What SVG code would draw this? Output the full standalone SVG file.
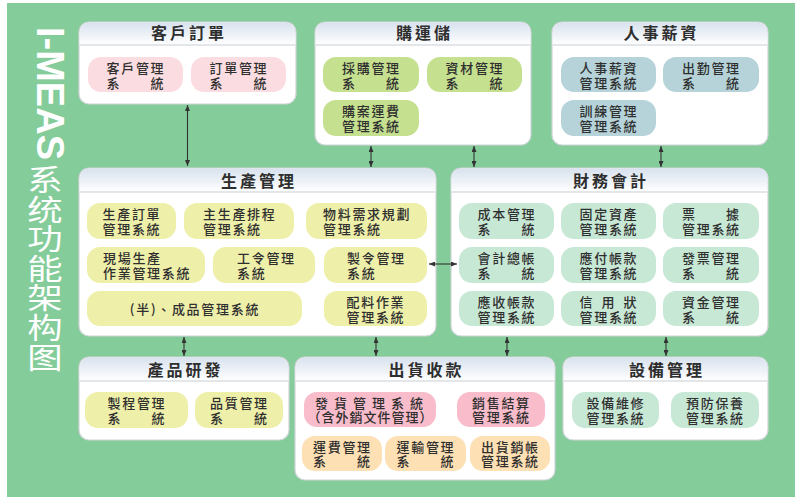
<svg xmlns="http://www.w3.org/2000/svg" width="800" height="504" viewBox="0 0 800 504">
<defs>
<linearGradient id="hg" x1="0" y1="0" x2="0" y2="1">
<stop offset="0" stop-color="#d8e2ee"/>
<stop offset="1" stop-color="#ffffff"/>
</linearGradient>
<marker id="ah" viewBox="0 0 10 10" refX="10" refY="5" markerWidth="6" markerHeight="5" markerUnits="userSpaceOnUse" orient="auto-start-reverse" preserveAspectRatio="none">
<path d="M0,0 L10,5 L0,10 z" fill="#333"/>
</marker>
<style>
.panel{fill:#fff;stroke:#cfd4d8;stroke-width:1.2}
.hdr{fill:url(#hg)}
.sep{stroke:#c9ced3;stroke-width:1}
.ttl{font-family:"Noto Sans CJK TC","Noto Sans CJK SC",sans-serif;font-size:16px;font-weight:bold;fill:#2e2e2e;letter-spacing:3px;text-anchor:middle}
.t{font-family:"Noto Sans CJK TC","Noto Sans CJK SC",sans-serif;font-size:13px;font-weight:500;fill:#2f2f2f;letter-spacing:1.7px}
.tm{text-anchor:middle}
.pk{fill:#fbdde1}
.gr{fill:#c5e08f}
.bl{fill:#b5d3d9}
.ye{fill:#eef0aa}
.mi{fill:#c8e8d6}
.pp{fill:#f8bccb}
.pe{fill:#fde0b3}
.conn line{stroke:#333;stroke-width:1.1;marker-start:url(#ah);marker-end:url(#ah)}
.side{font-family:"Noto Sans CJK SC","Noto Sans CJK TC",sans-serif;font-size:29px;fill:#fff;writing-mode:vertical-rl;letter-spacing:0.6px}
</style>
</defs>
<rect x="0" y="0" width="800" height="504" fill="#fff"/>
<rect x="7" y="3" width="788" height="494" fill="#84cc9a"/>

<g id="title">
<text transform="translate(37,27) rotate(90)" x="0" y="0" font-family="'Liberation Sans',Arial,sans-serif" font-size="38" font-weight="bold" fill="#fff">I-MEAS</text>
<g transform="translate(45,0) scale(1.22,1)">
<text class="side" x="0" y="165.5">系统功能架构图</text>
</g>
</g>

<g id="customer-order">
<rect class="panel" x="79" y="22" width="217" height="82" rx="10"/>
<path class="hdr" d="M79.6,45 V32 A10,10 0 0 1 89,22.6 H286 A10,10 0 0 1 295.4,32 V45 Z"/>
<line class="sep" x1="79.6" y1="45" x2="295.4" y2="45"/>
<text class="ttl" x="189" y="39">客戶訂單</text>
<rect class="pk" x="88" y="57" width="95" height="35" rx="13"/>
<text class="t"><tspan x="106.5" y="73">客戶管理</tspan><tspan x="106.5" y="87.5">系　　統</tspan></text>
<rect class="pk" x="191" y="57" width="95" height="35" rx="13"/>
<text class="t"><tspan x="209.5" y="73">訂單管理</tspan><tspan x="209.5" y="87.5">系　　統</tspan></text>
</g>

<g id="purchase">
<rect class="panel" x="315" y="22" width="216" height="123" rx="10"/>
<path class="hdr" d="M315.6,45 V32 A10,10 0 0 1 325,22.6 H521 A10,10 0 0 1 530.4,32 V45 Z"/>
<line class="sep" x1="315.6" y1="45" x2="530.4" y2="45"/>
<text class="ttl" x="424.5" y="39">購運儲</text>
<rect class="gr" x="323" y="57" width="96" height="35" rx="13"/>
<text class="t"><tspan x="342" y="73">採購管理</tspan><tspan x="342" y="87.5">系　　統</tspan></text>
<rect class="gr" x="427" y="57" width="95" height="35" rx="13"/>
<text class="t"><tspan x="445.5" y="73">資材管理</tspan><tspan x="445.5" y="87.5">系　　統</tspan></text>
<rect class="gr" x="323" y="100" width="96" height="36" rx="13"/>
<text class="t"><tspan x="342" y="116">購案運費</tspan><tspan x="342" y="130.5">管理系統</tspan></text>
</g>

<g id="hr">
<rect class="panel" x="552" y="22" width="216" height="123" rx="10"/>
<path class="hdr" d="M552.6,45 V32 A10,10 0 0 1 562,22.6 H758 A10,10 0 0 1 767.4,32 V45 Z"/>
<line class="sep" x1="552.6" y1="45" x2="767.4" y2="45"/>
<text class="ttl" x="661.5" y="39">人事薪資</text>
<rect class="bl" x="561" y="57" width="95" height="35" rx="13"/>
<text class="t"><tspan x="579.5" y="73">人事薪資</tspan><tspan x="579.5" y="87.5">管理系統</tspan></text>
<rect class="bl" x="663" y="57" width="96" height="35" rx="13"/>
<text class="t"><tspan x="682" y="73">出勤管理</tspan><tspan x="682" y="87.5">系　　統</tspan></text>
<rect class="bl" x="561" y="100" width="95" height="36" rx="13"/>
<text class="t"><tspan x="579.5" y="116">訓練管理</tspan><tspan x="579.5" y="130.5">管理系統</tspan></text>
</g>

<g id="production">
<rect class="panel" x="79" y="168" width="357" height="168" rx="10"/>
<path class="hdr" d="M79.6,192 V178 A10,10 0 0 1 89,168.6 H426 A10,10 0 0 1 435.4,178 V192 Z"/>
<line class="sep" x1="79.6" y1="192" x2="435.4" y2="192"/>
<text class="ttl" x="259" y="187">生產管理</text>
<rect class="ye" x="87" y="203" width="89" height="36" rx="13"/>
<text class="t"><tspan x="102.5" y="219">生產訂單</tspan><tspan x="102.5" y="233.5">管理系統</tspan></text>
<rect class="ye" x="184" y="203" width="110" height="36" rx="13"/>
<text class="t"><tspan x="203" y="219">主生產排程</tspan><tspan x="203" y="233.5">管理系統</tspan></text>
<rect class="ye" x="306" y="203" width="121" height="36" rx="13"/>
<text class="t"><tspan x="323" y="219">物料需求規劃</tspan><tspan x="323" y="233.5">管理系統</tspan></text>
<rect class="ye" x="87" y="247" width="118" height="36" rx="13"/>
<text class="t"><tspan x="103" y="263">現場生產</tspan><tspan x="103" y="277.5">作業管理系統</tspan></text>
<rect class="ye" x="213" y="247" width="102" height="36" rx="13"/>
<text class="t"><tspan x="237" y="263">工令管理</tspan><tspan x="237" y="277.5">系統</tspan></text>
<rect class="ye" x="324" y="247" width="103" height="36" rx="13"/>
<text class="t"><tspan x="347" y="263">製令管理</tspan><tspan x="347" y="277.5">系統</tspan></text>
<rect class="ye" x="87" y="291" width="215" height="35" rx="13"/>
<text class="t tm" x="195" y="313.5">(半)、成品管理系統</text>
<rect class="ye" x="324" y="291" width="103" height="35" rx="13"/>
<text class="t"><tspan x="346.5" y="307">配料作業</tspan><tspan x="346.5" y="321.5">管理系統</tspan></text>
</g>

<g id="finance">
<rect class="panel" x="451" y="168" width="317" height="168" rx="10"/>
<path class="hdr" d="M451.6,192 V178 A10,10 0 0 1 461,168.6 H758 A10,10 0 0 1 767.4,178 V192 Z"/>
<line class="sep" x1="451.6" y1="192" x2="767.4" y2="192"/>
<text class="ttl" x="611" y="187">財務會計</text>
<rect class="mi" x="459" y="203" width="95" height="36" rx="13"/>
<text class="t"><tspan x="477.5" y="219">成本管理</tspan><tspan x="477.5" y="233.5">系　　統</tspan></text>
<rect class="mi" x="561" y="203" width="95" height="36" rx="13"/>
<text class="t"><tspan x="579.5" y="219">固定資產</tspan><tspan x="579.5" y="233.5">管理系統</tspan></text>
<rect class="mi" x="663" y="203" width="96" height="36" rx="13"/>
<text class="t"><tspan x="682" y="219">票　　據</tspan><tspan x="682" y="233.5">管理系統</tspan></text>
<rect class="mi" x="459" y="247" width="95" height="36" rx="13"/>
<text class="t"><tspan x="477.5" y="263">會計總帳</tspan><tspan x="477.5" y="277.5">系　　統</tspan></text>
<rect class="mi" x="561" y="247" width="95" height="36" rx="13"/>
<text class="t"><tspan x="579.5" y="263">應付帳款</tspan><tspan x="579.5" y="277.5">管理系統</tspan></text>
<rect class="mi" x="663" y="247" width="96" height="36" rx="13"/>
<text class="t"><tspan x="682" y="263">發票管理</tspan><tspan x="682" y="277.5">系　　統</tspan></text>
<rect class="mi" x="459" y="291" width="95" height="35" rx="13"/>
<text class="t"><tspan x="477.5" y="307">應收帳款</tspan><tspan x="477.5" y="321.5">管理系統</tspan></text>
<rect class="mi" x="561" y="291" width="95" height="35" rx="13"/>
<text class="t"><tspan x="579.5 601.5 623.6" y="307">信用狀</tspan><tspan x="579.5" y="321.5">管理系統</tspan></text>
<rect class="mi" x="663" y="291" width="96" height="35" rx="13"/>
<text class="t"><tspan x="682" y="307">資金管理</tspan><tspan x="682" y="321.5">系　　統</tspan></text>
</g>

<g id="rnd">
<rect class="panel" x="79" y="357" width="210" height="83" rx="10"/>
<path class="hdr" d="M79.6,381 V367 A10,10 0 0 1 89,357.6 H279 A10,10 0 0 1 288.4,367 V381 Z"/>
<line class="sep" x1="79.6" y1="381" x2="288.4" y2="381"/>
<text class="ttl" x="185.5" y="375.5">產品研發</text>
<rect class="ye" x="85" y="392" width="103" height="36" rx="13"/>
<text class="t"><tspan x="107.5" y="408">製程管理</tspan><tspan x="107.5" y="422.5">系　　統</tspan></text>
<rect class="ye" x="195" y="392" width="88" height="36" rx="13"/>
<text class="t"><tspan x="210" y="408">品質管理</tspan><tspan x="210" y="422.5">系　　統</tspan></text>
</g>

<g id="shipping">
<rect class="panel" x="295" y="357" width="260" height="123" rx="10"/>
<path class="hdr" d="M295.6,381 V367 A10,10 0 0 1 305,357.6 H545 A10,10 0 0 1 554.4,367 V381 Z"/>
<line class="sep" x1="295.6" y1="381" x2="554.4" y2="381"/>
<text class="ttl" x="426.5" y="375.5">出貨收款</text>
<rect class="pp" x="304" y="392" width="132" height="35" rx="13"/>
<text class="t"><tspan x="315 334 353 372 391 410" y="407.5">發貨管理系統</tspan><tspan x="370.5" y="422" text-anchor="middle" style="letter-spacing:1px">（含外銷文件管理）</tspan></text>
<rect class="pp" x="457" y="392" width="88" height="35" rx="13"/>
<text class="t"><tspan x="472" y="407.5">銷售結算</tspan><tspan x="472" y="422">管理系統</tspan></text>
<rect class="pe" x="302" y="436" width="80" height="35" rx="13"/>
<text class="t"><tspan x="313" y="452">運費管理</tspan><tspan x="313" y="466">系　　統</tspan></text>
<rect class="pe" x="385" y="436" width="81" height="35" rx="13"/>
<text class="t"><tspan x="396.5" y="452">運輸管理</tspan><tspan x="396.5" y="466">系　　統</tspan></text>
<rect class="pe" x="470" y="436" width="80" height="35" rx="13"/>
<text class="t"><tspan x="481" y="452">出貨銷帳</tspan><tspan x="481" y="466">管理系統</tspan></text>
</g>

<g id="equipment">
<rect class="panel" x="563" y="357" width="205" height="83" rx="10"/>
<path class="hdr" d="M563.6,381 V367 A10,10 0 0 1 573,357.6 H758 A10,10 0 0 1 767.4,367 V381 Z"/>
<line class="sep" x1="563.6" y1="381" x2="767.4" y2="381"/>
<text class="ttl" x="667" y="375.5">設備管理</text>
<rect class="mi" x="572" y="392" width="87" height="36" rx="13"/>
<text class="t"><tspan x="586.5" y="408">設備維修</tspan><tspan x="586.5" y="422.5">管理系統</tspan></text>
<rect class="mi" x="671" y="392" width="88" height="36" rx="13"/>
<text class="t"><tspan x="686" y="408">預防保養</tspan><tspan x="686" y="422.5">管理系統</tspan></text>
</g>

<g id="conn" class="conn">
<line x1="187.5" y1="105" x2="187.5" y2="166"/>
<line x1="371" y1="146" x2="371" y2="167"/>
<line x1="474" y1="146" x2="474" y2="167"/>
<line x1="661" y1="146" x2="661" y2="167"/>
<line x1="429" y1="264" x2="457" y2="264"/>
<line x1="184" y1="337" x2="184" y2="356"/>
<line x1="376" y1="337" x2="376" y2="356"/>
<line x1="507" y1="337" x2="507" y2="356"/>
<line x1="666" y1="337" x2="666" y2="356"/>
</g>
</svg>
